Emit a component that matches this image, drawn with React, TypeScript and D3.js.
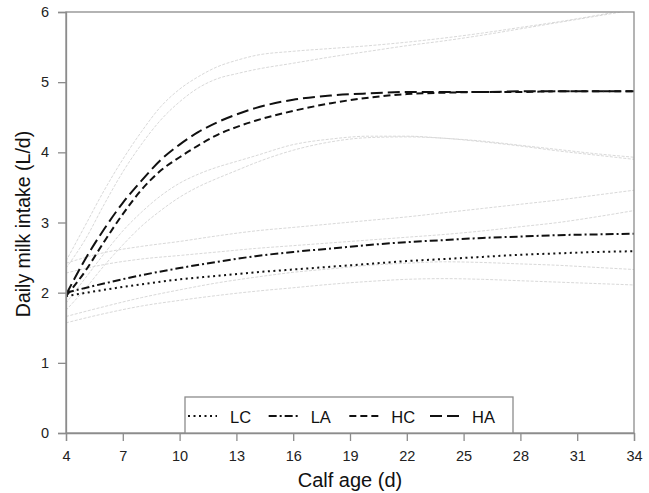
import { useEffect, useRef } from 'react';
import * as d3 from 'd3';

// calf age (d) at which each curve is read
const days = [4, 5, 6, 7, 8, 9, 10, 11, 12, 13, 14, 16, 18, 20, 22, 24, 26, 28, 30, 32, 34];
const daysWide = [4, 6, 8, 10, 12, 14, 16, 18, 20, 22, 24, 26, 28, 30, 32, 34];

// fitted means
const haMean = [1.97, 2.47, 2.90, 3.28, 3.60, 3.89, 4.11, 4.29, 4.43, 4.54, 4.63, 4.75, 4.81, 4.84, 4.86, 4.86, 4.86, 4.87, 4.87, 4.87, 4.87];
const hcMean = [1.95, 2.30, 2.72, 3.12, 3.47, 3.74, 3.93, 4.10, 4.25, 4.36, 4.45, 4.59, 4.70, 4.78, 4.83, 4.85, 4.86, 4.86, 4.87, 4.87, 4.87];
const laMean = [2.00, 2.13, 2.25, 2.35, 2.44, 2.52, 2.58, 2.63, 2.68, 2.72, 2.75, 2.78, 2.80, 2.82, 2.83, 2.84];
const lcMean = [1.95, 2.04, 2.12, 2.19, 2.24, 2.29, 2.33, 2.37, 2.41, 2.45, 2.48, 2.51, 2.54, 2.56, 2.58, 2.59];

// confidence bands (grey)
const haUpper = [2.45, 2.95, 3.45, 3.90, 4.30, 4.65, 4.90, 5.08, 5.22, 5.31, 5.38, 5.44, 5.48, 5.52, 5.57, 5.63, 5.70, 5.78, 5.86, 5.95, 6.05];
const hcUpper = [2.35, 2.75, 3.25, 3.72, 4.12, 4.46, 4.72, 4.92, 5.05, 5.12, 5.18, 5.27, 5.36, 5.44, 5.52, 5.59, 5.67, 5.76, 5.85, 5.94, 6.03];
const haLower = [1.85, 2.20, 2.55, 2.88, 3.15, 3.38, 3.56, 3.69, 3.79, 3.87, 3.95, 4.11, 4.19, 4.23, 4.23, 4.20, 4.16, 4.10, 4.04, 3.98, 3.93];
const hcLower = [1.75, 2.05, 2.38, 2.68, 2.95, 3.17, 3.36, 3.51, 3.63, 3.74, 3.85, 4.03, 4.15, 4.21, 4.22, 4.20, 4.15, 4.09, 4.02, 3.96, 3.90];
const laUpper = [2.42, 2.57, 2.66, 2.73, 2.81, 2.88, 2.93, 2.98, 3.03, 3.08, 3.14, 3.20, 3.26, 3.32, 3.39, 3.46];
const lcUpper = [2.28, 2.40, 2.48, 2.53, 2.58, 2.63, 2.67, 2.71, 2.75, 2.79, 2.83, 2.88, 2.94, 3.00, 3.08, 3.17];
const laLower = [1.66, 1.80, 1.93, 2.04, 2.14, 2.22, 2.29, 2.34, 2.39, 2.42, 2.44, 2.43, 2.41, 2.39, 2.36, 2.33];
const lcLower = [1.57, 1.70, 1.81, 1.89, 1.96, 2.02, 2.07, 2.12, 2.16, 2.19, 2.20, 2.19, 2.17, 2.15, 2.13, 2.11];

const xTicks = [4, 7, 10, 13, 16, 19, 22, 25, 28, 31, 34];
const yTicks = [0, 1, 2, 3, 4, 5, 6];

const legendLabels = ['LC', 'LA', 'HC', 'HA'];
const dashes: Record<string, string> = {
  LC: '2,3.5',
  LA: '8,3,2,3',
  HC: '7,4',
  HA: '12,5',
};

const FONT = '"Liberation Sans", Arial, sans-serif';
const AXIS = '#8c8c8c';

export default function App() {
  const ref = useRef<SVGSVGElement>(null);

  useEffect(() => {
    const svg = d3.select(ref.current);
    svg.selectAll('*').remove();

    const x = d3.scaleLinear().domain([4, 34]).range([66, 634]);
    const y = d3.scaleLinear().domain([0, 6]).range([433, 12]);

    const line = (xs: number[]) =>
      d3.line<number>()
        .x((_, i) => x(xs[i]))
        .y(d => y(d))
        .curve(d3.curveMonotoneX);

    const clip = svg.append('clipPath').attr('id', 'plot');
    clip.append('rect').attr('x', 66).attr('y', 12).attr('width', 568).attr('height', 421);

    const plot = svg.append('g').attr('clip-path', 'url(#plot)');

    const bands = [
      { v: haUpper, xs: days },
      { v: hcUpper, xs: days },
      { v: haLower, xs: days },
      { v: hcLower, xs: days },
      { v: laUpper, xs: daysWide },
      { v: lcUpper, xs: daysWide },
      { v: laLower, xs: daysWide },
      { v: lcLower, xs: daysWide },
    ];
    bands.forEach(b => {
      plot.append('path')
        .attr('d', line(b.xs)(b.v))
        .attr('fill', 'none')
        .attr('stroke', '#d9d9d9')
        .attr('stroke-width', 1)
        .attr('stroke-dasharray', '3,1.5');
    });

    const means = [
      { v: lcMean, xs: daysWide, k: 'LC' },
      { v: laMean, xs: daysWide, k: 'LA' },
      { v: hcMean, xs: days, k: 'HC' },
      { v: haMean, xs: days, k: 'HA' },
    ];
    means.forEach(m => {
      plot.append('path')
        .attr('d', line(m.xs)(m.v))
        .attr('fill', 'none')
        .attr('stroke', '#111')
        .attr('stroke-width', 2)
        .attr('stroke-dasharray', dashes[m.k]);
    });

    // frame
    svg.append('rect')
      .attr('x', 66).attr('y', 12).attr('width', 568).attr('height', 421)
      .attr('fill', 'none').attr('stroke', AXIS).attr('stroke-width', 1.3);

    // axes
    const gx = svg.append('g').attr('transform', 'translate(0,433)')
      .call(d3.axisBottom(x).tickValues(xTicks).tickFormat(d3.format('d')).tickSize(8).tickPadding(10));
    const gy = svg.append('g').attr('transform', 'translate(66,0)')
      .call(d3.axisLeft(y).tickValues(yTicks).tickFormat(d3.format('d')).tickSize(8).tickPadding(9));
    [gx, gy].forEach(g => {
      g.select('.domain').attr('stroke', AXIS).attr('stroke-width', 1.3);
      g.selectAll('.tick line').attr('stroke', AXIS).attr('stroke-width', 1.3);
      g.selectAll('.tick text')
        .attr('fill', '#222')
        .attr('font-family', FONT)
        .attr('font-size', 14.5);
    });

    svg.append('text')
      .attr('x', 350).attr('y', 487)
      .attr('text-anchor', 'middle')
      .attr('font-family', FONT).attr('font-size', 20).attr('fill', '#111')
      .text('Calf age (d)');
    svg.append('text')
      .attr('transform', 'translate(30,224) rotate(-90)')
      .attr('text-anchor', 'middle')
      .attr('font-family', FONT).attr('font-size', 19.5).attr('fill', '#111')
      .text('Daily milk intake (L/d)');

    // legend
    const lg = svg.append('g');
    lg.append('rect')
      .attr('x', 185).attr('y', 397).attr('width', 328).attr('height', 36)
      .attr('fill', 'white').attr('stroke', AXIS).attr('stroke-width', 1.3);
    const legendX = d3.scalePoint<string>().domain(legendLabels).range([188, 430]);
    legendLabels.forEach(k => {
      const x0 = legendX(k) as number;
      lg.append('line')
        .attr('x1', x0).attr('x2', x0 + 29)
        .attr('y1', 416).attr('y2', 416)
        .attr('stroke', '#111').attr('stroke-width', 2)
        .attr('stroke-dasharray', dashes[k]);
      lg.append('text')
        .attr('x', x0 + 42).attr('y', 422.5)
        .attr('font-family', FONT).attr('font-size', 16.5).attr('fill', '#111')
        .text(k);
    });
  }, []);

  return (
    <svg
      ref={ref}
      width={649}
      height={493}
      style={{ position: 'absolute', left: 0, top: 0, background: 'white' }}
    />
  );
}
